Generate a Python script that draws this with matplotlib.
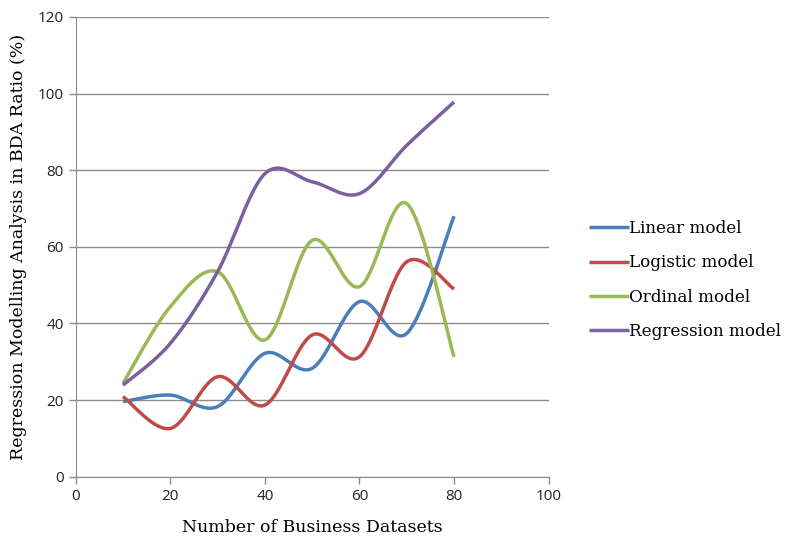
import numpy as np
import matplotlib.pyplot as plt

datasets = [10, 20, 30, 40, 50, 60, 70, 80]
linear_model = [19.6, 21.3, 18.3, 32.2, 28.3, 45.7, 37.4, 68.0]
logistic_model = [20.9, 12.6, 26.1, 18.7, 37.0, 31.3, 56.1, 49.0]
ordinal_model = [24.4, 44.4, 53.5, 35.7, 61.7, 49.6, 71.3, 31.3]
regression_model = [23.9, 34.8, 53.5, 79.1, 77.0, 73.9, 86.5, 97.8]

series_names = ["Linear model", "Logistic model", "Ordinal model", "Regression model"]
colors = ["#4a7ebb", "#be4b48", "#98b954", "#7d5fa0"]


def smooth(x, y, n=40):
    # cubic bezier through the points, catmull-rom style control points
    x = np.asarray(x, float)
    y = np.asarray(y, float)
    px = np.concatenate([[x[0]], x, [x[-1]]])
    py = np.concatenate([[y[0]], y, [y[-1]]])
    t = np.linspace(0, 1, n)
    xs, ys = [], []
    for i in range(1, len(px) - 2):
        p0 = np.array([px[i], py[i]])
        p3 = np.array([px[i + 1], py[i + 1]])
        c1 = p0 + (np.array([px[i + 1], py[i + 1]]) - np.array([px[i - 1], py[i - 1]])) / 6
        c2 = p3 - (np.array([px[i + 2], py[i + 2]]) - np.array([px[i], py[i]])) / 6
        b = ((1 - t) ** 3)[:, None] * p0 + (3 * (1 - t) ** 2 * t)[:, None] * c1 \
            + (3 * (1 - t) * t ** 2)[:, None] * c2 + (t ** 3)[:, None] * p3
        xs.append(b[:, 0])
        ys.append(b[:, 1])
    return np.concatenate(xs), np.concatenate(ys)


fig = plt.figure(figsize=(7.86, 5.36), dpi=100)
ax = fig.add_axes([0.0963, 0.1106, 0.6017, 0.8577])

for vals, name, c in zip([linear_model, logistic_model, ordinal_model, regression_model],
                         series_names, colors):
    sx, sy = smooth(datasets, vals)
    ax.plot(sx, sy, color=c, lw=2.5, label=name, solid_capstyle="butt")

ax.set_xlim(0, 100)
ax.set_ylim(0, 120)
ax.set_xticks(np.arange(0, 101, 20))
ax.set_yticks(np.arange(0, 121, 20))
ax.yaxis.grid(True, color="#8c8c8c", lw=1)
ax.set_axisbelow(True)
for s in ["top", "right"]:
    ax.spines[s].set_visible(False)
for s in ["left", "bottom"]:
    ax.spines[s].set_color("#8c8c8c")
ax.tick_params(colors="#8c8c8c", length=5, width=1, labelcolor="#222222",
               labelsize=11, direction="out")
for lab in ax.get_xticklabels() + ax.get_yticklabels():
    lab.set_family("Open Sans")

ax.set_xlabel("Number of Business Datasets", family="DejaVu Serif", fontsize=12.5, labelpad=11)
ax.set_ylabel("Regression Modelling Analysis in BDA Ratio (%)", family="DejaVu Serif",
              fontsize=12.5, labelpad=8)

ax.legend(loc="center left", bbox_to_anchor=(1.053, 0.428), frameon=False,
          prop={"family": "DejaVu Serif", "size": 12.1}, handlelength=2.4,
          handletextpad=0.0, labelspacing=1.02)

fig.savefig("out.png", dpi=100)
